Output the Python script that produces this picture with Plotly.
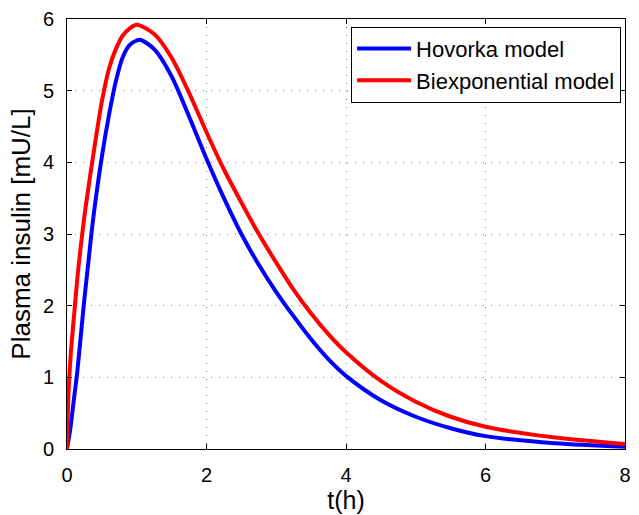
import plotly.graph_objects as go

# Hovorka model (blue)
t_hov = [0, 0.05, 0.1, 0.15, 0.2, 0.25, 0.3, 0.35, 0.4, 0.5, 0.6, 0.7, 0.8, 0.9, 1.0, 1.05,
         1.25, 1.5, 1.75, 2.0, 2.25, 2.5, 2.75, 3.0, 3.25, 3.5, 3.75, 4.0, 4.5, 5.0, 5.5,
         6.0, 7.0, 8.0]
y_hov = [0, 0.3, 0.7, 1.1, 1.6, 2.1, 2.55, 3.0, 3.4, 4.08, 4.65, 5.13, 5.47, 5.64, 5.70, 5.71,
         5.58, 5.20, 4.64, 4.05, 3.50, 3.0, 2.57, 2.19, 1.85, 1.53, 1.25, 1.02, 0.68, 0.45, 0.29,
         0.18, 0.08, 0.03]

# Biexponential model (red)
t_bi = [0, 0.01, 0.03, 0.06, 0.1, 0.15, 0.2, 0.25, 0.3, 0.35, 0.4, 0.5, 0.6, 0.7, 0.8, 0.9,
        1.0, 1.25, 1.5, 1.75, 2.0, 2.25, 2.5, 2.75, 3.0, 3.25, 3.5, 3.75, 4.0, 4.5, 5.0, 5.5,
        6.0, 7.0, 8.0]
y_bi = [0, 0.45, 0.95, 1.4, 1.85, 2.4, 2.85, 3.25, 3.6, 3.93, 4.25, 4.85, 5.3, 5.58, 5.77, 5.87,
        5.92, 5.79, 5.46, 4.97, 4.42, 3.90, 3.44, 3.0, 2.6, 2.22, 1.89, 1.6, 1.35, 0.95, 0.66, 0.45,
        0.31, 0.16, 0.07]

x_ticks = [0, 2, 4, 6, 8]
y_ticks = [0, 1, 2, 3, 4, 5, 6]

FONT = "Liberation Sans, Arial, sans-serif"

fig = go.Figure()
fig.add_trace(go.Scatter(x=t_hov, y=y_hov, mode="lines", name="Hovorka model",
                         line=dict(color="#0000ff", width=4, shape="spline", smoothing=0.8)))
fig.add_trace(go.Scatter(x=t_bi, y=y_bi, mode="lines", name="Biexponential model",
                         line=dict(color="#ff0000", width=4, shape="spline", smoothing=0.8)))

axis_common = dict(
    showline=True, linecolor="black", linewidth=1, mirror="allticks",
    ticks="inside", ticklen=5, tickcolor="black", tickwidth=1,
    showgrid=True, gridcolor="#7f7f7f", gridwidth=1, griddash="1px,7px",
    zeroline=False, tickfont=dict(family=FONT, size=20, color="black"),
)

fig.update_xaxes(range=[0, 8], tickvals=x_ticks, ticklabelstandoff=8,
                 title=dict(text="t(h)", font=dict(family=FONT, size=25, color="black"), standoff=3),
                 **axis_common)
fig.update_yaxes(range=[0, 6], tickvals=y_ticks, ticklabelstandoff=8,
                 title=dict(text="Plasma insulin [mU/L]", font=dict(family=FONT, size=26, color="black"), standoff=4),
                 **axis_common)

fig.update_layout(
    width=639, height=515,
    margin=dict(l=67, r=8, t=17, b=62),
    paper_bgcolor="white", plot_bgcolor="white",
    font=dict(family=FONT, color="black"),
    legend=dict(x=0.993, y=0.982, xanchor="right", yanchor="top",
                bgcolor="white", bordercolor="black", borderwidth=1,
                font=dict(family=FONT, size=22, color="black"),
                itemwidth=54, tracegroupgap=0),
    showlegend=True,
)

fig.write_html("out.html")
